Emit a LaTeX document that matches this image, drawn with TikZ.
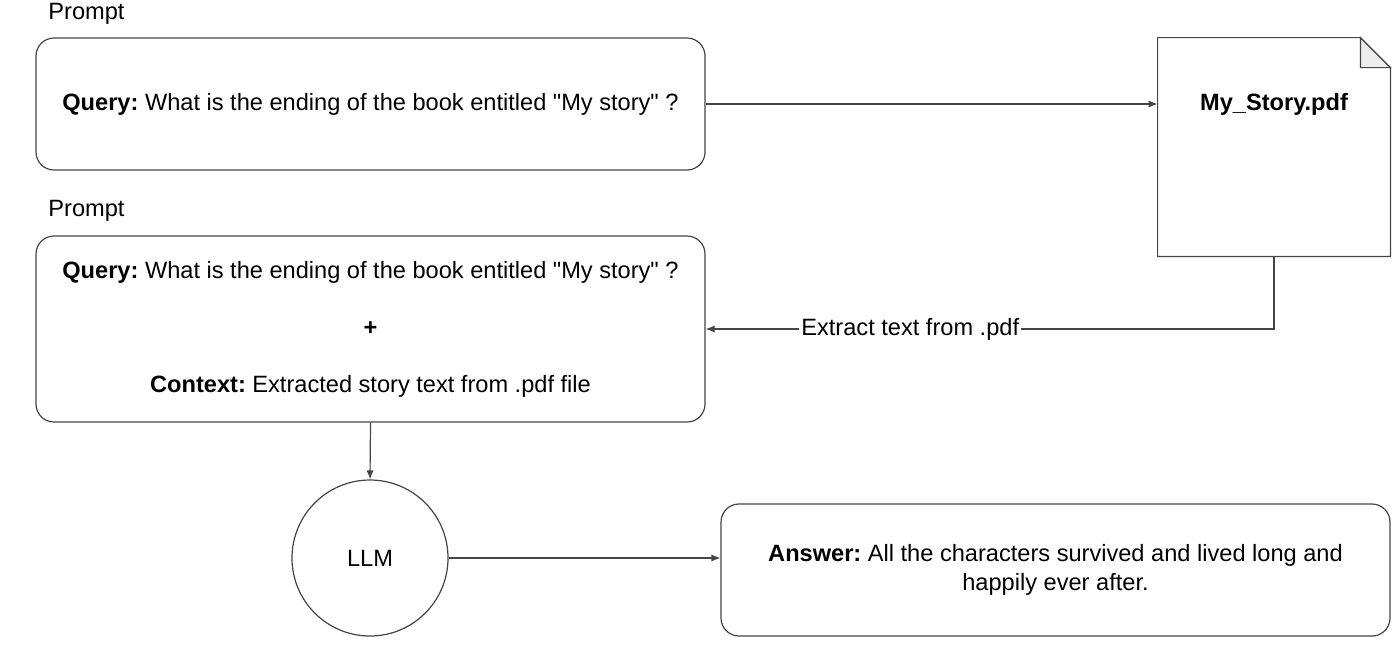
\documentclass[tikz,border=0pt]{standalone}
\usepackage{fontspec}
\setmainfont{Liberation Sans}
\usetikzlibrary{arrows.meta,calc,positioning}
\definecolor{edgegray}{HTML}{454545}
\definecolor{foldgray}{HTML}{EDEDED}
\frenchspacing
\tikzset{
  flow/.style={edgegray, line width=0.6pt, -{Latex[length=4.5pt,width=3.6pt]}},
  promptbox/.style={draw=edgegray, line width=0.6pt, rounded corners=9pt, minimum width=334.5pt, align=center, inner sep=0pt},
  llmnode/.style={draw=edgegray, line width=0.6pt, circle, minimum size=78pt, inner sep=0pt},
  docnode/.style={minimum width=116pt, minimum height=109pt, inner sep=0pt},
  caption/.style={anchor=west, inner sep=0pt}
}

\begin{document}
\begin{tikzpicture}[x=0.5pt, y=-0.5pt, font=\fontsize{11.8}{14}\selectfont]
  \useasboundingbox (0,0) rectangle (1400,645);
  % prompts
  \node[caption] (cap1) at (48,14) {Prompt};
  \node[promptbox, minimum height=66pt] (query) at (370.5,104) {\textbf{Query:} What is the ending of the book entitled \textquotedbl My story\textquotedbl\ ?};
  \node[caption] (cap2) at (48,211) {Prompt};
  \node[promptbox, minimum height=93pt] (ctx) at (370.5,329) {\textbf{Query:} What is the ending of the book entitled \textquotedbl My story\textquotedbl\ ?\\[14.5pt]
    \textbf{+}\\[14.5pt]
    \textbf{Context:} Extracted story text from .pdf file};
  % document
  \node[docnode] (doc) at (1274,147) {};
  \draw[edgegray, line width=0.6pt] (doc.north west) -- ($(doc.north east)+(-30,0)$) -- ($(doc.north east)+(0,30)$) -- (doc.south east) -- (doc.south west) -- cycle;
  \draw[edgegray, line width=0.6pt, fill=foldgray] ($(doc.north east)+(-30,0)$) -- ($(doc.north east)+(-30,30)$) -- ($(doc.north east)+(0,30)$) -- cycle;
  \node[font=\fontsize{11.8}{14}\selectfont\bfseries] (docname) at (1274,104) {My\_Story.pdf};
  % model and answer
  \node[llmnode] (llm) at (370,558) {LLM};
  \node[promptbox, minimum height=66pt, font=\fontsize{11.8}{14.5}\selectfont] (answer) at (1055.5,570) {\textbf{Answer:} All the characters survived and lived long and\\ happily ever after.};
  % connectors
  \draw[flow] (query.east) -- (query.east -| doc.west);
  \draw[flow] (doc.south) |- node[pos=0.82, fill=white, text=black, inner sep=1pt] (extract) {Extract text from .pdf} (ctx.east);
  \draw[flow] (ctx.south) -- (llm.north);
  \draw[flow] (llm.east) -- (llm.east -| answer.west);
\end{tikzpicture}
\end{document}
